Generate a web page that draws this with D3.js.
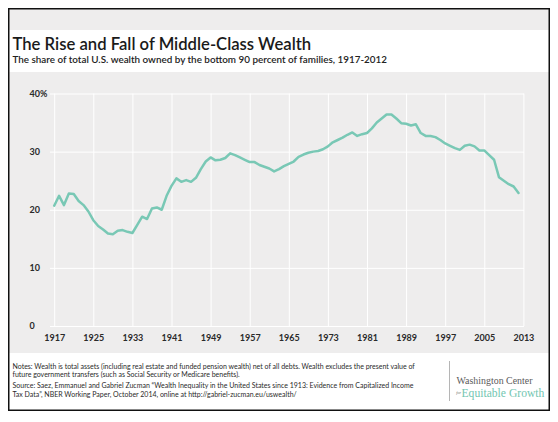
<!DOCTYPE html>
<html>
<head>
<meta charset="utf-8">
<script src="https://cdn.jsdelivr.net/npm/d3@7"></script>
<style>
  html, body { margin: 0; padding: 0; background: #fff; }
  svg { display: block; }
</style>
</head>
<body>
<svg id="chart" width="558" height="422"></svg>
<script>
// ---------- data ----------
const firstYear = 1917;
const shares = [
  20.7, 22.4, 20.8, 22.8, 22.7, 21.5, 20.8, 19.7, 18.2, 17.2,   // 1917-1926
  16.6, 15.9, 15.8, 16.4, 16.5, 16.2, 16.0, 17.4, 18.8, 18.4,   // 1927-1936
  20.2, 20.4, 20.0, 22.4, 24.1, 25.4, 24.8, 25.1, 24.8, 25.5,   // 1937-1946
  27.0, 28.3, 29.0, 28.5, 28.6, 28.9, 29.7, 29.4, 29.0, 28.6,   // 1947-1956
  28.2, 28.2, 27.7, 27.4, 27.1, 26.6, 27.0, 27.5, 27.9, 28.3,   // 1957-1966
  29.1, 29.5, 29.8, 30.0, 30.1, 30.4, 30.9, 31.6, 32.0, 32.4,   // 1967-1976
  32.9, 33.3, 32.7, 33.0, 33.2, 34.0, 35.0, 35.7, 36.4, 36.4,   // 1977-1986
  35.7, 34.9, 34.8, 34.5, 34.7, 33.2, 32.7, 32.7, 32.5, 32.0,   // 1987-1996
  31.4, 31.0, 30.6, 30.3, 31.0, 31.2, 30.9, 30.2, 30.2, 29.4,   // 1997-2006
  28.6, 25.6, 25.0, 24.4, 24.0, 22.9                            // 2007-2012
];
const xTicks = [1917, 1925, 1933, 1941, 1949, 1957, 1965, 1973, 1981, 1989, 1997, 2005, 2013];
const yTicks = [0, 10, 20, 30, 40];
const yTickLabels = ["0", "10", "20", "30", "40%"];

const titleText = "The Rise and Fall of Middle-Class Wealth";
const subtitleText = "The share of total U.S. wealth owned by the bottom 90 percent of families, 1917-2012";
const notesLines = [
  "Notes: Wealth is total assets (including real estate and funded pension wealth) net of all debts. Wealth excludes the present value of",
  "future government transfers (such as Social Security or Medicare benefits)."
];
const sourceLines = [
  "Source: Saez, Emmanuel and Gabriel Zucman \u201cWealth Inequality in the United States since 1913: Evidence from Capitalized Income",
  "Tax Data\u201d, NBER Working Paper, October 2014, online at http://gabriel-zucman.eu/uswealth/"
];

const data = shares.map((v, i) => ({ year: firstYear + i, value: v }));

// ---------- layout ----------
const svg = d3.select("#chart");
const font = "Lato, 'Open Sans', sans-serif";
const grey = "#eeeded";
const teal = "#79c8b5";

function fit(sel, target) {
  const w = sel.node().getComputedTextLength();
  const fs = parseFloat(sel.attr("font-size"));
  sel.attr("font-size", fs * target / w);
}

svg.append("rect").attr("width", 558).attr("height", 422).attr("fill", "#fff");
// top grey band
svg.append("rect").attr("x", 9).attr("y", 9).attr("width", 540).attr("height", 21).attr("fill", grey);
// chart grey panel
svg.append("rect").attr("x", 9).attr("y", 72).attr("width", 540).attr("height", 281).attr("fill", grey);

// title & subtitle
const t = svg.append("text").attr("x", 12.5).attr("y", 49.5)
  .attr("font-family", font).attr("font-size", 16).attr("font-weight", 600)
  .attr("fill", "#1a1a1a").text(titleText);
fit(t, 299);
const st = svg.append("text").attr("x", 12.5).attr("y", 63)
  .attr("font-family", font).attr("font-size", 10).attr("font-weight", 600)
  .attr("fill", "#222").text(subtitleText);
fit(st, 375);

// scales
const x = d3.scaleLinear().domain([1917, 2013]).range([54.2, 523.4]);
const y = d3.scaleLinear().domain([0, 40]).range([326, 93.5]);

// gridlines
const gx = svg.append("g").attr("transform", "translate(0,326)")
  .call(d3.axisBottom(x).tickValues(xTicks).tickSize(-(326 - 93.5)).tickFormat(""));
gx.select(".domain").remove();
gx.selectAll("line").attr("stroke", "#fff").attr("stroke-width", 1);

const gy = svg.append("g").attr("transform", "translate(50,0)")
  .call(d3.axisLeft(y).tickValues(yTicks).tickSize(-(524 - 50)).tickFormat(""));
gy.select(".domain").remove();
gy.selectAll("line").attr("stroke", "#fff").attr("stroke-width", 1);

// axis labels
const xl = svg.append("g").attr("transform", "translate(0,338)")
  .call(d3.axisBottom(x).tickValues(xTicks).tickSize(0).tickPadding(0).tickFormat(d3.format("d")));
xl.select(".domain").remove();
xl.selectAll("text").attr("font-family", font).attr("font-size", 9).attr("font-weight", 700)
  .attr("fill", "#2a2a2a").attr("dy", "0.35em").attr("y", 0);

const yl = svg.append("g").attr("transform", "translate(29.5,0)")
  .call(d3.axisLeft(y).tickValues(yTicks).tickSize(0).tickPadding(0)
    .tickFormat((d, i) => yTickLabels[i]));
yl.select(".domain").remove();
yl.selectAll("text").attr("font-family", font).attr("font-size", 9).attr("font-weight", 700)
  .attr("fill", "#2a2a2a").attr("text-anchor", "start").attr("x", 0);

// line
const line = d3.line().x(d => x(d.year)).y(d => y(d.value));
svg.append("path").datum(data).attr("d", line)
  .attr("fill", "none").attr("stroke", teal).attr("stroke-width", 2.5)
  .attr("stroke-linejoin", "round").attr("stroke-linecap", "round");

// footer notes
const footBase = [368.5, 377, 388, 396.5];
const footLines = notesLines.concat(sourceLines);
const fsel = svg.append("g").selectAll("text").data(footLines).join("text")
  .attr("x", 12.5).attr("y", (d, i) => footBase[i])
  .attr("font-family", font).attr("font-size", 6.6).attr("fill", "#2a2a2a")
  .text(d => d);
{
  const first = fsel.filter((d, i) => i === 0);
  const w = first.node().getComputedTextLength();
  const fs = 6.6 * 403 / w;
  fsel.attr("font-size", fs);
}

// logo
svg.append("line").attr("x1", 449.5).attr("x2", 449.5).attr("y1", 361).attr("y2", 401)
  .attr("stroke", "#b5b5b5").attr("stroke-width", 1);
const l1 = svg.append("text").attr("x", 456.5).attr("y", 383.5)
  .attr("font-family", "'Liberation Serif', 'DejaVu Serif', serif").attr("font-size", 10)
  .attr("fill", "#5a5a5a").text("Washington Center");
fit(l1, 76);
svg.append("text").attr("x", 456.3).attr("y", 394)
  .attr("font-family", "'Liberation Serif', serif").attr("font-style", "italic")
  .attr("font-size", 4).attr("fill", "#666").text("for");
const l2 = svg.append("text").attr("x", 461.5).attr("y", 396.5)
  .attr("font-family", "'Liberation Serif', 'DejaVu Serif', serif").attr("font-size", 12)
  .attr("fill", "#72c6b1").text("Equitable Growth");
fit(l2, 83);

// frame
svg.append("rect").attr("x", 8.75).attr("y", 8.75).attr("width", 540.5).attr("height", 401.5)
  .attr("fill", "none").attr("stroke", "#111").attr("stroke-width", 1.5);
</script>
</body>
</html>
